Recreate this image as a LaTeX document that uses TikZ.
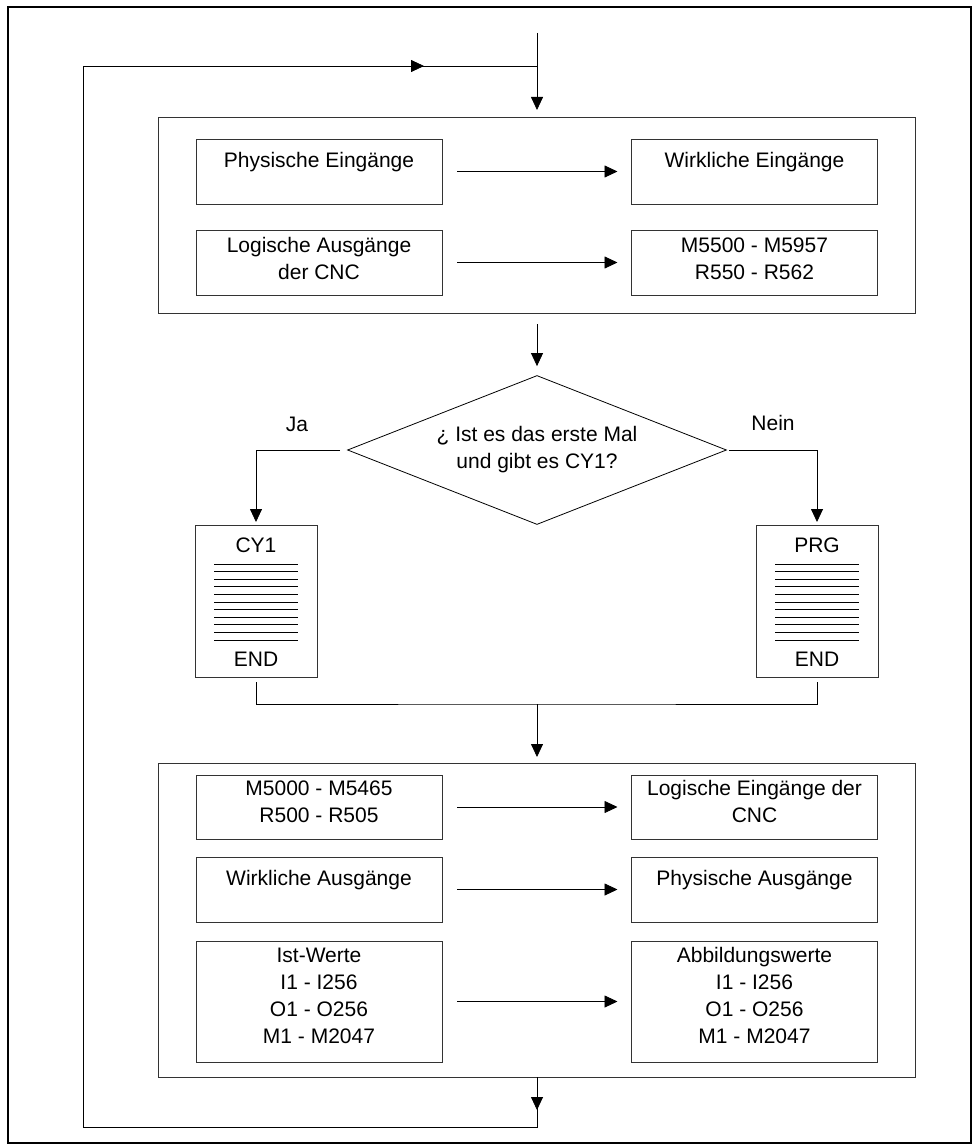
\documentclass[tikz,border=0pt]{standalone}
\usepackage{fontspec}
\setmainfont{Liberation Sans}
\usetikzlibrary{arrows.meta,shapes.geometric,calc}
\begin{document}
\begin{tikzpicture}[x=1pt,y=-1pt,
  every node/.style={font=\fontsize{21}{27}\selectfont},
  box/.style={draw=black!80, line width=0.8pt, inner sep=0pt, outer sep=0pt},
  bigbox/.style={box, minimum width=757pt},
  inbox/.style={box, minimum width=246pt},
  docbox/.style={box, minimum width=122pt, minimum height=152pt},
  txt/.style={inner sep=0pt, outer sep=0pt, align=center},
  conn/.style={line width=0.8pt},
  arr/.style={line width=0.8pt, -{Triangle[length=13pt,width=12pt]}},
]
\useasboundingbox (0,0) rectangle (978,1147);
\draw[line width=2pt] (8,7) rectangle (971,1143);

% top block
\node[bigbox, minimum height=196pt] (top) at (537,215) {};
\node[inbox, minimum height=65pt] (pe) at (319,171.5) {};
\node[inbox, minimum height=65pt] (we) at (754.5,171.5) {};
\node[inbox, minimum height=65pt] (la) at (319,262.5) {};
\node[inbox, minimum height=65pt] (mr) at (754.5,262.5) {};
\node[txt] (tpe) at ([yshift=9.5pt]pe.center) {Physische Eingänge};
\node[txt] (twe) at ([yshift=9.5pt]we.center) {Wirkliche Eingänge};
\node[txt] (tla) at ([yshift=4pt]la.center) {Logische Ausgänge\\der CNC};
\node[txt] (tmr) at ([yshift=4pt]mr.center) {M5500 - M5957\\R550 - R562};
\draw[arr, shorten <=15pt, shorten >=14pt] (pe) -- (we);
\draw[arr, shorten <=15pt, shorten >=14pt] (la) -- (mr);

% decision
\node[draw, line width=0.8pt, shape=diamond, aspect=2.5, minimum width=379pt,
      minimum height=149pt, inner sep=0pt, align=center] (dia) at (537,450)
      {¿ Ist es das erste Mal\\und gibt es CY1?};
\node[txt] (ja) at (297,424) {Ja};
\node[txt] (nein) at (773,423) {Nein};

% program documents
\node[docbox] (cy1) at (256,601) {};
\node[docbox] (prg) at (817,601) {};
\node[txt] (tcy1) at ([yshift=-20pt]cy1.north) {CY1};
\node[txt] (ecy1) at ([yshift=18pt]cy1.south) {END};
\node[txt] (tprg) at ([yshift=-20pt]prg.north) {PRG};
\node[txt] (eprg) at ([yshift=18pt]prg.south) {END};
\foreach \i in {0,...,10}{
  \draw[conn] ($(cy1.north west)+(19,39+7.6*\i)$) -- ($(cy1.north east)+(-19,39+7.6*\i)$);
  \draw[conn] ($(prg.north west)+(19,39+7.6*\i)$) -- ($(prg.north east)+(-19,39+7.6*\i)$);
}

% bottom block
\node[bigbox, minimum height=314pt] (bot) at (537,920) {};
\node[inbox, minimum height=64pt] (mi) at (319,807) {};
\node[inbox, minimum height=64pt] (le) at (754.5,807) {};
\node[inbox, minimum height=65pt] (wa) at (319,889.5) {};
\node[inbox, minimum height=65pt] (pa) at (754.5,889.5) {};
\node[inbox, minimum height=121pt] (iw) at (319,1001.5) {};
\node[inbox, minimum height=121pt] (aw) at (754.5,1001.5) {};
\node[txt] (tmi) at ([yshift=5.5pt]mi.center) {M5000 - M5465\\R500 - R505};
\node[txt] (tle) at ([yshift=5.5pt]le.center) {Logische Eingänge der\\CNC};
\node[txt] (twa) at ([yshift=9.5pt]wa.center) {Wirkliche Ausgänge};
\node[txt] (tpa) at ([yshift=9.5pt]pa.center) {Physische Ausgänge};
\node[txt] (tiw) at ([yshift=6pt]iw.center) {Ist-Werte\\I1 - I256\\O1 - O256\\M1 - M2047};
\node[txt] (taw) at ([yshift=6pt]aw.center) {Abbildungswerte\\I1 - I256\\O1 - O256\\M1 - M2047};
\draw[arr, shorten <=15pt, shorten >=14pt] (mi) -- (le);
\draw[arr, shorten <=15pt, shorten >=14pt] (wa) -- (pa);
\draw[arr, shorten <=15pt, shorten >=14pt] (iw) -- (aw);

% connectors
\coordinate (start) at (537,33);
\coordinate (merge) at (537,704);
\coordinate (exitTip) at (537,1110);
\coordinate (loopBR) at (537,1127);
\coordinate (loopBL) at (83,1127);
\coordinate (loopTL) at (83,66);
\coordinate (loopMid) at (424,66);
\coordinate (join) at (537,66);

\draw[arr, shorten >=7pt] (start) -- (top.north);
\draw[arr, shorten <=11pt, shorten >=9pt] (top.south) -- (dia.north);
\draw[arr, shorten <=7pt, shorten >=3pt] (dia.west) -| (cy1.north);
\draw[arr, shorten <=2pt, shorten >=3pt] (dia.east) -| (prg.north);
\draw[conn, shorten <=5pt, shorten >=5pt] (cy1.south) |- (merge) -| (prg.south);
\draw[arr, shorten >=6pt] (merge) -- (bot.north);
\draw[conn] (bot.south) -- (loopBR) -- (loopBL) -- (loopTL) -- (join);
\draw[arr] (bot.south) -- (exitTip);
\draw[arr] (loopTL) -- (loopMid);
\end{tikzpicture}
\end{document}
